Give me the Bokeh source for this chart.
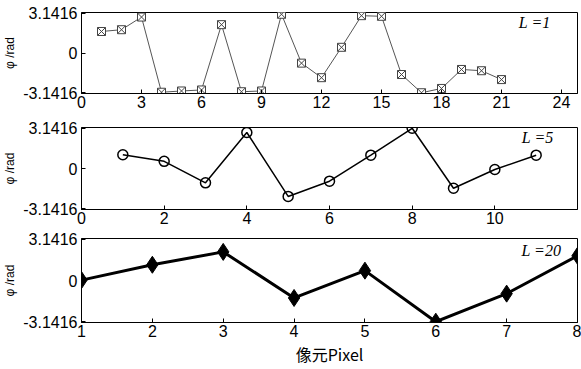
from bokeh.plotting import figure
from bokeh.layouts import column
from bokeh.models import Label, FixedTicker, Range1d
from bokeh.embed import file_html
from bokeh.resources import INLINE

PI = 3.1416
# Panel L=1
x1 = list(range(1, 22))
y1 = [1.70, 1.84, 2.84, -3.10, -3.00, -2.92, 2.24, -3.06, -3.00, 3.06, -0.80,
      -1.95, 0.45, 2.95, 2.90, -1.70, -3.14, -2.80, -1.30, -1.40, -2.10]
# Panel L=5
x2 = list(range(1, 12))
y2 = [1.07, 0.56, -1.12, 2.81, -2.18, -0.99, 1.04, 3.14, -1.54, -0.08, 1.04]
# Panel L=20
x3 = list(range(1, 9))
y3 = [0.03, 1.20, 2.18, -1.33, 0.75, -3.14, -1.00, 1.88]

xticks1 = [0, 3, 6, 9, 12, 15, 18, 21, 24]
xticks2 = [0, 2, 4, 6, 8, 10]
xticks3 = [1, 2, 3, 4, 5, 6, 7, 8]
yticks = [-PI, 0, PI]
ylabels = {-PI: "-3.1416", 0: "0", PI: "3.1416"}
labels = ["L =1", "L =5", "L =20"]

W = 581
YR = (-3.2, 3.2)


def make_fig(height, top, bottom, xr, xticks, label, lx, ly):
    p = figure(width=W, height=height, output_backend="svg", toolbar_location=None,
               x_range=Range1d(*xr), y_range=Range1d(*YR),
               min_border_left=79, min_border_right=4,
               min_border_top=top, min_border_bottom=bottom)
    p.xgrid.visible = False
    p.ygrid.visible = False
    p.outline_line_color = "black"
    p.background_fill_color = "white"
    p.border_fill_color = "white"
    xa = p.below[0]
    ya = p.left[0]
    for ax in [xa, ya]:
        ax.axis_line_color = "black"
        ax.major_tick_in = 4
        ax.major_tick_out = 0
        ax.major_tick_line_color = "black"
        ax.minor_tick_line_color = None
        ax.major_label_text_font = "Liberation Sans"
        ax.major_label_text_font_size = "16px"
        ax.major_label_text_color = "black"
    xa.ticker = FixedTicker(ticks=xticks)
    xa.major_label_standoff = 2
    ya.ticker = FixedTicker(ticks=yticks)
    ya.major_label_overrides = ylabels
    ya.major_label_standoff = 4
    ya.axis_label = "φ /rad"
    ya.axis_label_text_font = "Liberation Sans"
    ya.axis_label_text_font_style = "normal"
    ya.axis_label_text_font_size = "12px"
    ya.axis_label_text_color = "black"
    ya.axis_label_standoff = 3
    p.add_layout(Label(x=lx, y=ly, text=label, text_font="Liberation Serif",
                       text_font_style="italic", text_font_size="16px",
                       text_color="black", text_align="right"))
    return p


p1 = make_fig(115, 12, 22, (0, 24.8), xticks1, labels[0], 23.45, 1.75)
p1.line(x1, y1, line_color="#555555", line_width=1)
p1.scatter(x1, y1, marker="square_x", size=8, fill_color="white",
           line_color="#444444", line_width=1)

p2 = make_fig(114, 12, 20, (0, 12), xticks2, labels[1], 11.42, 1.76)
p2.line(x2, y2, line_color="black", line_width=1.5)
p2.scatter(x2, y2, marker="circle", size=10, fill_color=None,
           line_color="black", line_width=1.5)

p3 = make_fig(140, 9, 47, (1, 8), xticks3, labels[2], 7.77, 1.65)
p3.line(x3, y3, line_color="black", line_width=3)
p3.scatter(x3, y3, marker="diamond", size=17, fill_color="black",
           line_color="black")
xa3 = p3.below[0]
xa3.axis_label = "像元Pixel"
xa3.axis_label_text_font = "Noto Sans CJK SC"
xa3.axis_label_text_font_style = "normal"
xa3.axis_label_text_font_size = "16px"
xa3.axis_label_text_color = "black"
xa3.axis_label_standoff = 2

layout = column(p1, p2, p3, spacing=0)
open("out.html", "w").write(file_html(layout, INLINE))
